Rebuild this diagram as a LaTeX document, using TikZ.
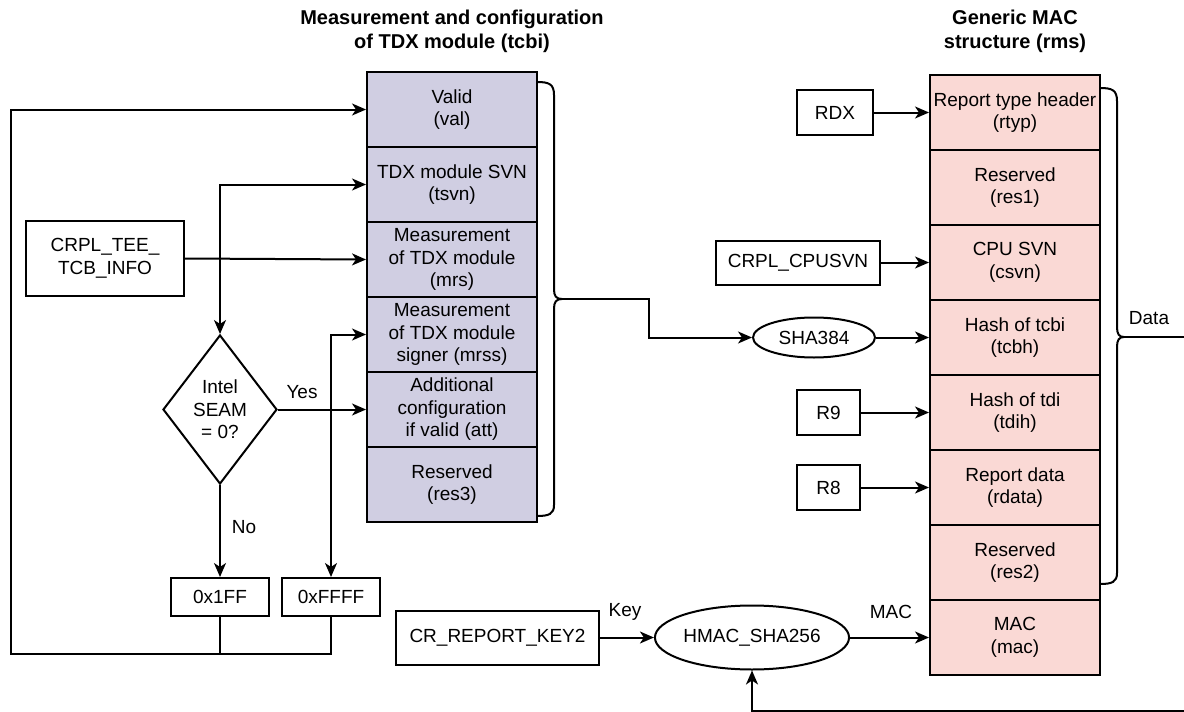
\documentclass[tikz,border=0pt]{standalone}
\usepackage{fontspec}
\setmainfont{Liberation Sans}
\usetikzlibrary{arrows.meta,shapes.geometric}
\definecolor{tcbfill}{HTML}{D0CEE2}
\definecolor{rmsfill}{HTML}{FAD9D5}
\begin{document}
\begin{tikzpicture}[x=1pt,y=-1pt,
  every node/.style={font=\fontsize{19}{22.5}\selectfont},
  lw/.style={line width=2pt},
  tcbrow/.style={draw, lw, fill=tcbfill, minimum width=170pt, minimum height=75pt, inner sep=0pt, align=center},
  rmsrow/.style={draw, lw, fill=rmsfill, minimum width=170pt, minimum height=75pt, inner sep=0pt, align=center},
  inbox/.style={draw, lw, fill=white, inner sep=0pt, align=center},
  hashnode/.style={ellipse, draw, lw, fill=white, inner sep=0pt},
  arr/.style={lw, -{Stealth[length=14pt,width=12pt,inset=4pt]}},
  arrboth/.style={lw, {Stealth[length=14pt,width=12pt,inset=4pt]}-{Stealth[length=14pt,width=12pt,inset=4pt]}},
  lbl/.style={inner sep=0pt},
  titletext/.style={font=\bfseries\fontsize{20}{24}\selectfont, align=center, inner sep=0pt}
]
\useasboundingbox (0,0) rectangle (1184,712);

% titles
\node[titletext] (t1) at (452,31) {Measurement and configuration\\of TDX module (tcbi)};
\node[titletext] (t2) at (1015,31) {Generic MAC\\structure (rms)};

% tcbi rows
\node[tcbrow] (tcb1) at (452,109.5) {Valid\\(val)};
\node[tcbrow] (tcb2) at (452,184.5) {TDX module SVN\\(tsvn)};
\node[tcbrow] (tcb3) at (452,259.5) {Measurement\\of TDX module\\(mrs)};
\node[tcbrow] (tcb4) at (452,334.5) {Measurement\\of TDX module\\signer (mrss)};
\node[tcbrow] (tcb5) at (452,409.5) {Additional\\configuration\\if valid (att)};
\node[tcbrow] (tcb6) at (452,484.5) {Reserved\\(res3)};

% rms rows
\node[rmsrow] (rms1) at (1015,112.5) {Report type header\\(rtyp)};
\node[rmsrow] (rms2) at (1015,187.5) {Reserved\\(res1)};
\node[rmsrow] (rms3) at (1015,262.5) {CPU SVN\\(csvn)};
\node[rmsrow] (rms4) at (1015,337.5) {Hash of tcbi\\(tcbh)};
\node[rmsrow] (rms5) at (1015,412.5) {Hash of tdi\\(tdih)};
\node[rmsrow] (rms6) at (1015,487.5) {Report data\\(rdata)};
\node[rmsrow] (rms7) at (1015,562.5) {Reserved\\(res2)};
\node[rmsrow] (rms8) at (1015,637.5) {MAC\\(mac)};

% left inputs
\node[inbox, minimum width=158pt, minimum height=75pt] (tee) at (105,258.5) {CRPL\_TEE\_\\TCB\_INFO};
\node[diamond, draw, lw, fill=white, minimum width=114pt, minimum height=149pt, inner sep=0pt] (dia) at (220,409.5) {};
\node[lbl, align=center] (diatxt) at (dia.center) {Intel\\SEAM\\= 0?};
\node[inbox, minimum width=98pt, minimum height=38pt] (x1ff) at (220,597) {0x1FF};
\node[inbox, minimum width=98pt, minimum height=38pt] (ffff) at (331,597) {0xFFFF};

% right inputs
\node[inbox, minimum width=76pt, minimum height=45pt] (rdx) at (835,112.5) {RDX};
\node[inbox, minimum width=164pt, minimum height=44pt] (cpusvn) at (798,262.5) {CRPL\_CPUSVN};
\node[hashnode, minimum width=122pt, minimum height=40pt] (sha) at (814,337.5) {SHA384};
\node[inbox, minimum width=63pt, minimum height=45pt] (r9) at (828.5,412.5) {R9};
\node[inbox, minimum width=63pt, minimum height=45pt] (r8) at (828.5,487.5) {R8};
\node[inbox, minimum width=203pt, minimum height=54pt] (key) at (497.5,637.5) {CR\_REPORT\_KEY2};
\node[hashnode, minimum width=166pt, minimum height=64pt] (hmac) at (752,637.5) {HMAC\_SHA256};

% labels
\node[lbl] (yeslbl) at (302,392) {Yes};
\node[lbl] (nolbl) at (244,527) {No};
\node[lbl] (keylbl) at (625,612) {Key};
\node[lbl] (maclbl) at (891,612) {MAC};
\node[lbl] (datalbl) at (1149,318) {Data};

% connectors on the left
\draw[arr] (tee.east) -- (tcb3.west);
\draw[arrboth] (tcb2.west) -| (dia.north);
\draw[arr] (dia.east) -- (tcb5.west);
\draw[arr] (dia.south) -- (x1ff.north);
\draw[arrboth] (tcb4.west) -| (ffff.north);
\coordinate (loopL) at (11,654);
\draw[arr] (ffff.south) |- (loopL) |- (tcb1.west);
\draw[lw] (x1ff.south) -- (x1ff.south |- loopL);

% tcbi brace
\draw[lw] (537,82) .. controls (549,82) and (554,84) .. (554,95) -- (554,289) .. controls (554,296) and (556,299) .. (562,299) coordinate (tcbtip);
\draw[lw] (tcbtip) .. controls (556,299) and (554,302) .. (554,309) -- (554,505) .. controls (554,514) and (549,516) .. (537,516);
\coordinate (bend1) at (649,299);
\draw[arr] (tcbtip) -- (bend1) |- (sha.west);

% connectors on the right
\draw[arr] (rdx.east) -- (rms1.west);
\draw[arr] (cpusvn.east) -- (rms3.west);
\draw[arr] (sha.east) -- (rms4.west);
\draw[arr] (r9.east) -- (rms5.west);
\draw[arr] (r8.east) -- (rms6.west);
\draw[arr] (key.east) -- (hmac.west);
\draw[arr] (hmac.east) -- (rms8.west);

% data brace
\draw[lw] (1100,88) .. controls (1112,88) and (1117,90) .. (1117,101) -- (1117,327) .. controls (1117,334) and (1119,337) .. (1124,337) coordinate (datatip);
\draw[lw] (datatip) .. controls (1119,337) and (1117,340) .. (1117,347) -- (1117,573) .. controls (1117,582) and (1112,584) .. (1100,584);
\coordinate (rightA) at (1184,337);
\coordinate (rightB) at (1184,711);
\draw[lw] (datatip) -- (rightA);
\draw[arr] (rightB) -| (hmac.south);
\end{tikzpicture}
\end{document}
